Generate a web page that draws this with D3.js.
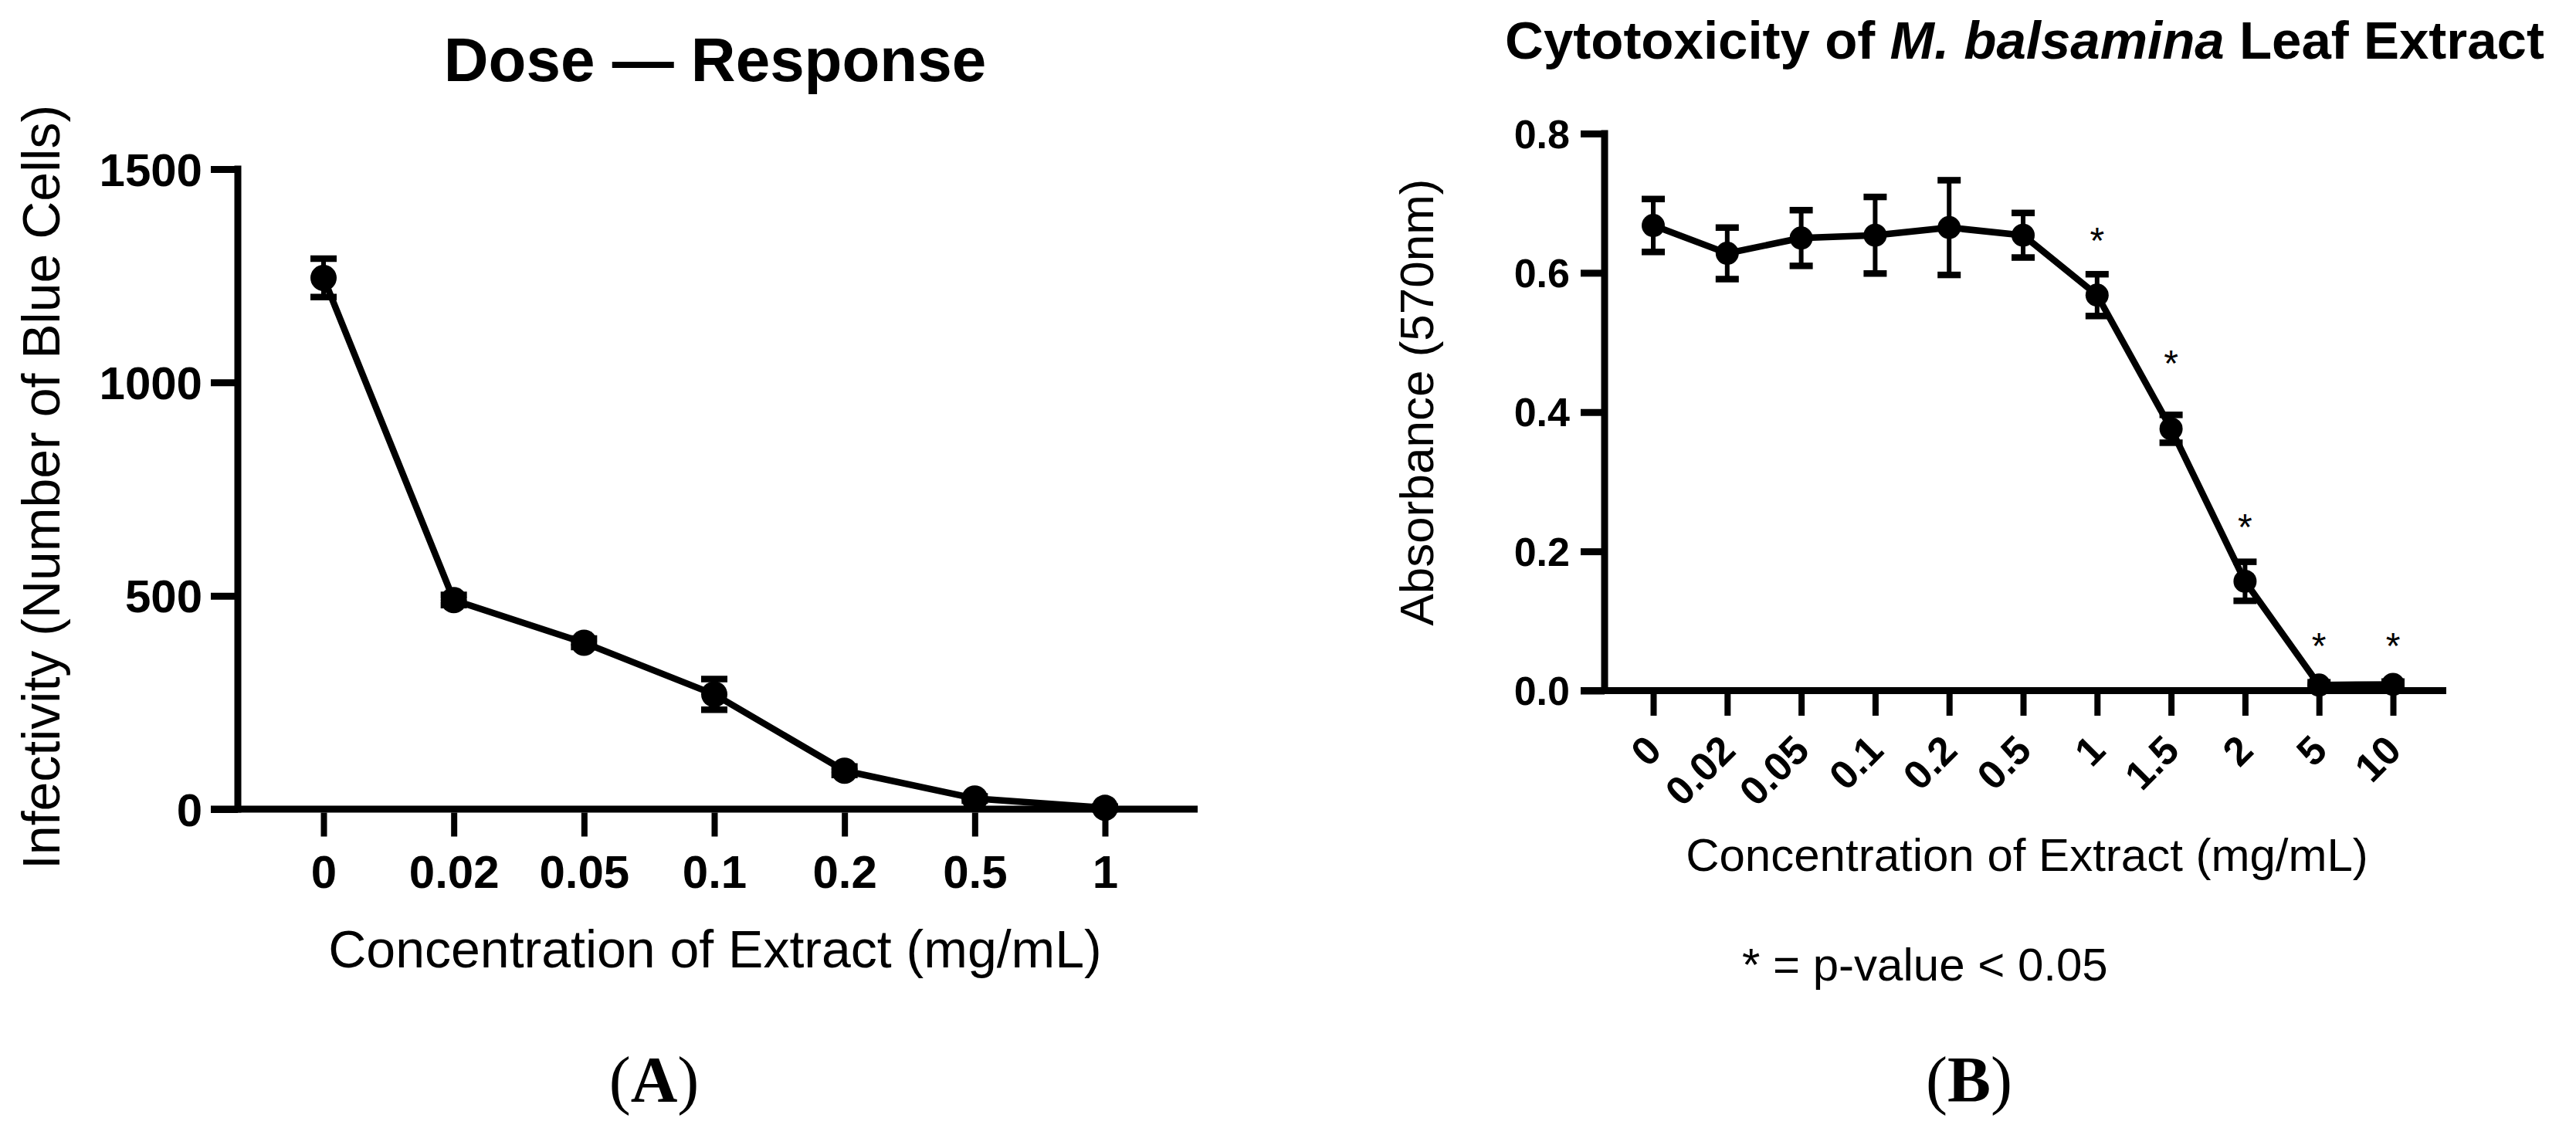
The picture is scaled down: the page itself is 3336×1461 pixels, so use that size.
<!DOCTYPE html>
<html>
<head>
<meta charset="utf-8">
<script src="https://cdn.jsdelivr.net/npm/d3@7"></script>
<style>
  html, body { margin: 0; padding: 0; background: #fff; }
  svg { display: block; font-family: "Liberation Sans", Arial, sans-serif; }
</style>
</head>
<body>
<svg id="chart" width="3336" height="1461"></svg>
<script>
// ---------- Data: Panel A (Dose — Response) ----------
const catsA = ["0", "0.02", "0.05", "0.1", "0.2", "0.5", "1"];
const meanA = [1245, 490, 390, 269, 90, 25, 3];
const errA  = [45, 12, 10, 36, 10, 5, 3];
const yTicksA = [0, 500, 1000, 1500];

// ---------- Data: Panel B (Cytotoxicity) ----------
const catsB = ["0", "0.02", "0.05", "0.1", "0.2", "0.5", "1", "1.5", "2", "5", "10"];
const meanB = [0.668, 0.628, 0.650, 0.654, 0.665, 0.654, 0.568, 0.376, 0.157, 0.008, 0.009];
const errB  = [0.038, 0.037, 0.040, 0.055, 0.068, 0.032, 0.030, 0.020, 0.028, 0.004, 0.004];
const yTicksB = [0, 0.2, 0.4, 0.6, 0.8];
// significance markers (category, label height in data units)
const sigCatsB = ["1", "1.5", "2", "5", "10"];
const sigYB    = [0.656, 0.480, 0.245, 0.074, 0.074];

const svg = d3.select("#chart");
const LW = 9; // line weight

function panel(opts) {
  const g = svg.append("g");
  const x = d3.scalePoint().domain(opts.cats).range(opts.xRange);
  const y = d3.scaleLinear().domain(opts.yDomain).range(opts.yRange);

  // x axis baseline (extends past plot range like Prism)
  g.append("line")
    .attr("x1", opts.xLine[0]).attr("x2", opts.xLine[1])
    .attr("y1", y(0)).attr("y2", y(0))
    .attr("stroke", "#000").attr("stroke-width", LW);

  // y axis
  const ya = d3.axisLeft(y).tickValues(opts.yTicks).tickFormat(opts.yFmt)
    .tickSize(opts.yTickSize).tickSizeOuter(0).tickPadding(opts.yPad);
  const yg = g.append("g").attr("transform", `translate(${opts.axisX},0)`).call(ya);
  yg.select(".domain").attr("stroke", "#000").attr("stroke-width", LW)
    .attr("stroke-linecap", "square")
    .attr("d", `M0,${y(0)}V${y(opts.yDomain[1])}`);
  yg.selectAll(".tick line").attr("stroke", "#000").attr("stroke-width", LW);
  yg.selectAll(".tick text").attr("fill", "#000")
    .style("font-size", opts.yFont + "px").style("font-weight", "bold")
    .style("font-family", '"Liberation Sans", Arial, sans-serif')
    .attr("dy", "0.35em");

  // x axis
  const xa = d3.axisBottom(x).tickSize(opts.xTickSize).tickSizeOuter(0);
  const xg = g.append("g").attr("transform", `translate(0,${y(0) + LW / 2})`).call(xa);
  xg.select(".domain").remove();
  xg.selectAll(".tick line").attr("stroke", "#000").attr("stroke-width", 8);
  const xt = xg.selectAll(".tick text").attr("fill", "#000")
    .style("font-size", opts.xFont + "px").style("font-weight", "bold")
    .style("font-family", '"Liberation Sans", Arial, sans-serif');
  if (opts.rotate) {
    xt.attr("y", null).attr("dy", "0.35em").attr("text-anchor", "end")
      .attr("transform", `translate(0,${opts.xLabOff}) rotate(-45)`);
  } else {
    xt.attr("y", opts.xLabOff).attr("dy", 0);
  }

  // data line
  const pts = opts.cats.map((c, i) => ({ c, m: opts.mean[i], e: opts.err[i] }));
  g.append("path").datum(pts)
    .attr("fill", "none").attr("stroke", "#000").attr("stroke-width", 8.5)
    .attr("stroke-linejoin", "round")
    .attr("d", d3.line().x(d => x(d.c)).y(d => y(d.m)));

  // error bars
  const eb = g.append("g").selectAll("g").data(pts).join("g");
  eb.append("line")
    .attr("x1", d => x(d.c)).attr("x2", d => x(d.c))
    .attr("y1", d => y(d.m + d.e)).attr("y2", d => y(Math.max(0, d.m - d.e)))
    .attr("stroke", "#000").attr("stroke-width", 6);
  eb.append("line")
    .attr("x1", d => x(d.c) - opts.cap / 2).attr("x2", d => x(d.c) + opts.cap / 2)
    .attr("y1", d => y(d.m + d.e)).attr("y2", d => y(d.m + d.e))
    .attr("stroke", "#000").attr("stroke-width", 8.5);
  eb.append("line")
    .attr("x1", d => x(d.c) - opts.cap / 2).attr("x2", d => x(d.c) + opts.cap / 2)
    .attr("y1", d => y(Math.max(0, d.m - d.e))).attr("y2", d => y(Math.max(0, d.m - d.e)))
    .attr("stroke", "#000").attr("stroke-width", 8.5);

  // markers
  g.append("g").selectAll("circle").data(pts).join("circle")
    .attr("cx", d => x(d.c)).attr("cy", d => y(d.m)).attr("r", opts.r)
    .attr("fill", "#000");

  return { g, x, y };
}

// ---------- Panel A ----------
const A = panel({
  cats: catsA, mean: meanA, err: errA,
  xRange: [419, 1431], yDomain: [0, 1500], yRange: [1048, 219],
  xLine: [273, 1551], axisX: 308, yTicks: yTicksA, yFmt: d3.format("d"),
  yTickSize: 35, yPad: 11, yFont: 60,
  xTickSize: 31, xFont: 60, xLabOff: 97, rotate: false,
  cap: 34, r: 17
});

svg.append("text").attr("x", 926).attr("y", 105).attr("text-anchor", "middle")
  .style("font-size", "80px").style("font-weight", "bold").text("Dose — Response");
svg.append("text").attr("transform", "translate(77,631) rotate(-90)")
  .attr("text-anchor", "middle").style("font-size", "68px")
  .text("Infectivity (Number of Blue Cells)");
svg.append("text").attr("x", 926).attr("y", 1253).attr("text-anchor", "middle")
  .style("font-size", "68px").text("Concentration of Extract (mg/mL)");
const labA = svg.append("text").attr("x", 847).attr("y", 1427).attr("text-anchor", "middle")
  .style("font-family", '"Liberation Serif", "Times New Roman", serif').style("font-size", "84px");
labA.append("tspan").text("(");
labA.append("tspan").style("font-weight", "bold").text("A");
labA.append("tspan").text(")");

// ---------- Panel B ----------
const B = panel({
  cats: catsB, mean: meanB, err: errB,
  xRange: [2141, 3099], yDomain: [0, 0.8], yRange: [894.5, 173],
  xLine: [2047, 3168], axisX: 2078, yTicks: yTicksB, yFmt: d3.format(".1f"),
  yTickSize: 31, yPad: 14, yFont: 52,
  xTickSize: 28, xFont: 52, xLabOff: 63, rotate: true,
  cap: 30, r: 15
});

// significance asterisks
B.g.append("g").selectAll("text").data(sigCatsB).join("text")
  .attr("x", d => B.x(d)).attr("y", (d, i) => B.y(sigYB[i]))
  .attr("dy", "0.53em").attr("text-anchor", "middle")
  .style("font-size", "48px").text("*");

const tB = svg.append("text").attr("x", 2622).attr("y", 76).attr("text-anchor", "middle")
  .style("font-size", "69px").style("font-weight", "bold");
tB.append("tspan").text("Cytotoxicity of ");
tB.append("tspan").style("font-style", "italic").text("M. balsamina");
tB.append("tspan").text(" Leaf Extract");

svg.append("text").attr("transform", "translate(1856,521) rotate(-90)")
  .attr("text-anchor", "middle").style("font-size", "62px").text("Absorbance (570nm)");
svg.append("text").attr("x", 2625).attr("y", 1128).attr("text-anchor", "middle")
  .style("font-size", "60px").text("Concentration of Extract (mg/mL)");
svg.append("text").attr("x", 2256).attr("y", 1270)
  .style("font-size", "60px").text("* = p-value < 0.05");
const labB = svg.append("text").attr("x", 2550).attr("y", 1427).attr("text-anchor", "middle")
  .style("font-family", '"Liberation Serif", "Times New Roman", serif').style("font-size", "84px");
labB.append("tspan").text("(");
labB.append("tspan").style("font-weight", "bold").text("B");
labB.append("tspan").text(")");
</script>
</body>
</html>
